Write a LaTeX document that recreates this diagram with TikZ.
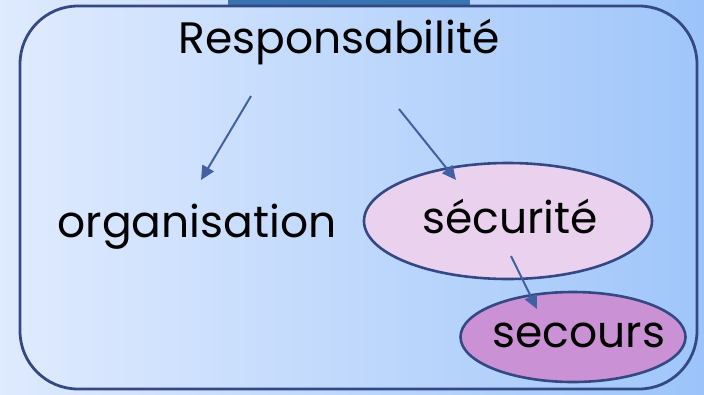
\documentclass[tikz,border=0pt]{standalone}
\usepackage{fontspec}
\setmainfont{Poppins}
\usetikzlibrary{shapes.geometric,arrows.meta}
\definecolor{bgL}{RGB}{222,234,254}
\definecolor{bgR}{RGB}{156,196,250}
\definecolor{inL}{RGB}{222,234,254}
\definecolor{inR}{RGB}{160,198,250}
\definecolor{frame}{RGB}{52,72,132}
\definecolor{arrowc}{RGB}{66,96,164}
\definecolor{bar}{RGB}{56,116,178}
\definecolor{secu}{RGB}{234,210,238}
\definecolor{seco}{RGB}{202,146,212}
\tikzset{
  txt/.style={font=\fontsize{44}{50}\selectfont, text=black, inner sep=0pt},
  oval/.style={ellipse, draw=frame, line width=2.6pt, inner sep=0pt},
  arr/.style={draw=arrowc, line width=2pt, -{Triangle[length=14pt,width=13pt]}}
}
\begin{document}
\begin{tikzpicture}[x=1pt,y=-1pt]
\useasboundingbox (0,0) rectangle (704,394);
\shade[left color=bgL, right color=bgR] (0,0) rectangle (704,394);
\fill[bar] (228,0) rectangle (470,8);
\draw[frame, line width=2.8pt, rounded corners=58pt, left color=inL, right color=inR] (20,6) rectangle (697,389);
\node[txt, anchor=base] (resp) at (339,53) {Responsabilité};
\node[txt, anchor=base] (org) at (197,237) {organisation};
\node[oval, fill=secu, minimum width=288pt, minimum height=116pt] (secu) at (508,221) {};
\node[txt, anchor=base] (secutxt) at (510,233) {sécurité};
\node[oval, fill=seco, minimum width=225pt, minimum height=90pt] (seco) at (573,337) {};
\node[txt, anchor=base] (secotxt) at (579,347) {secours};
\coordinate (a1s) at (251,96);
\coordinate (a1e) at (201,180);
\coordinate (a2s) at (399,109);
\coordinate (a2e) at (456,180);
\coordinate (a3s) at (511,256);
\coordinate (a3e) at (537,309);
\draw[arr] (a1s) -- (a1e);
\draw[arr] (a2s) -- (a2e);
\draw[arr] (a3s) -- (a3e);
\end{tikzpicture}
\end{document}
